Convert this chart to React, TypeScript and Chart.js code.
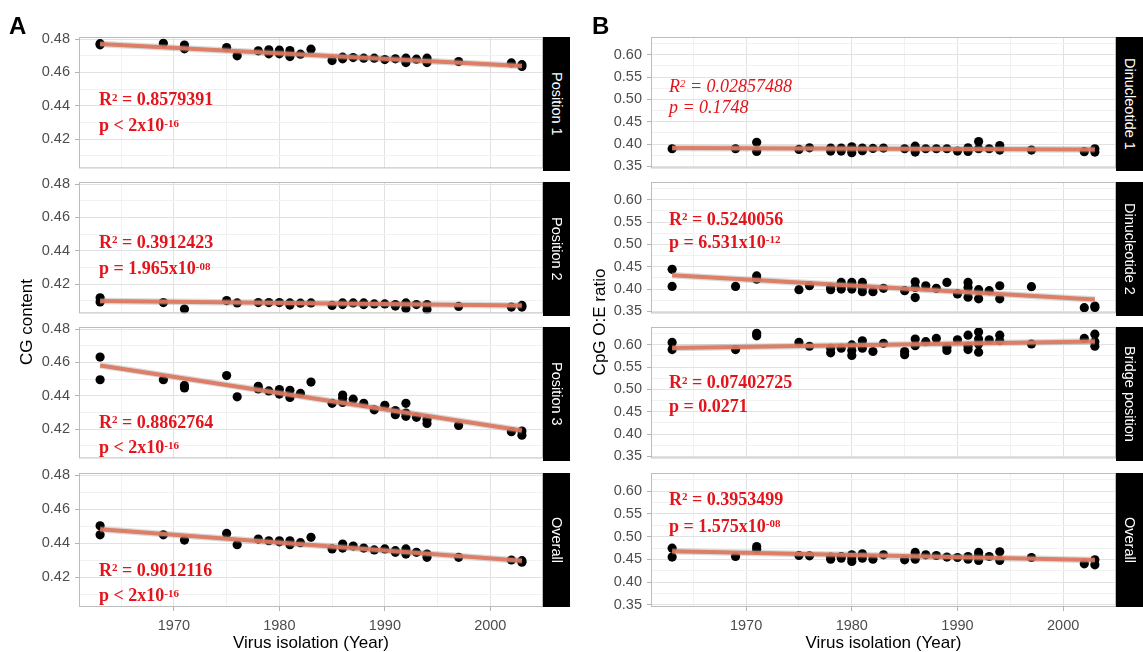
import React, { useEffect, useRef } from "react";
import { Chart, registerables } from "chart.js";

Chart.register(...registerables);

const SANS = '"Liberation Sans", Arial, Helvetica, sans-serif';
const SERIF = '"Liberation Serif", "Times New Roman", Times, serif';

// ---- axes ----
const yearMin = 1961;
const yearMax = 2005;
const yearMajor = [1970, 1980, 1990, 2000];
const yearMinor = [1965, 1975, 1985, 1995];

const cgMin = 0.4025;
const cgMax = 0.4812;
const cgMajor = [0.42, 0.44, 0.46, 0.48];
const cgMinor = [0.41, 0.43, 0.45, 0.47];

const oeMin = 0.3456;
const oeMax = 0.6395;
const oeMajor = [0.35, 0.4, 0.45, 0.5, 0.55, 0.6];
const oeMinor = [0.375, 0.425, 0.475, 0.525, 0.575, 0.625];

// ---- A: CG content by codon position ----
const pos1Years = [1963, 1963, 1969, 1971, 1971, 1975, 1976, 1978, 1979, 1979, 1980, 1980, 1981, 1981, 1982, 1983, 1985, 1986, 1986, 1987, 1988, 1989, 1990, 1991, 1992, 1992, 1993, 1994, 1994, 1997, 2002, 2003, 2003];
const pos1Values = [0.4772, 0.4765, 0.4774, 0.4764, 0.4741, 0.4749, 0.4699, 0.4729, 0.4735, 0.4711, 0.4733, 0.4711, 0.4731, 0.4695, 0.4709, 0.4739, 0.4671, 0.4691, 0.4681, 0.4689, 0.4685, 0.4685, 0.4677, 0.4681, 0.4685, 0.4659, 0.4679, 0.4685, 0.4659, 0.4665, 0.4657, 0.4646, 0.4636];
const pos1Fit = [0.477, 0.4638];

const pos2Years = [1963, 1963, 1969, 1971, 1975, 1976, 1978, 1979, 1980, 1981, 1981, 1982, 1983, 1985, 1986, 1986, 1987, 1988, 1988, 1989, 1990, 1991, 1991, 1992, 1992, 1993, 1994, 1994, 1997, 2002, 2003, 2003];
const pos2Values = [0.4118, 0.4094, 0.409, 0.4051, 0.4102, 0.4088, 0.409, 0.409, 0.409, 0.4088, 0.4075, 0.4086, 0.4088, 0.4073, 0.4088, 0.4078, 0.4088, 0.4088, 0.4078, 0.4082, 0.4082, 0.4078, 0.4069, 0.4088, 0.4055, 0.4078, 0.4078, 0.4049, 0.4067, 0.4063, 0.4073, 0.4063];
const pos2Fit = [0.4099, 0.4072];

const pos3Years = [1963, 1963, 1969, 1971, 1971, 1975, 1976, 1978, 1978, 1979, 1980, 1980, 1981, 1981, 1982, 1983, 1985, 1986, 1986, 1986, 1987, 1988, 1989, 1990, 1991, 1991, 1992, 1992, 1992, 1993, 1994, 1994, 1997, 2002, 2003, 2003];
const pos3Values = [0.4632, 0.4496, 0.4496, 0.4462, 0.4447, 0.4521, 0.4394, 0.4457, 0.4441, 0.4429, 0.4437, 0.441, 0.4433, 0.439, 0.4414, 0.4482, 0.4355, 0.4404, 0.4385, 0.436, 0.438, 0.4355, 0.4316, 0.4343, 0.4312, 0.4287, 0.4355, 0.4297, 0.4277, 0.4271, 0.4258, 0.4234, 0.4222, 0.4185, 0.4189, 0.4164];
const pos3Fit = [0.4582, 0.4192];

const cgAllYears = [1963, 1963, 1969, 1971, 1975, 1976, 1978, 1979, 1980, 1980, 1981, 1981, 1982, 1983, 1985, 1986, 1986, 1987, 1988, 1989, 1990, 1991, 1991, 1992, 1992, 1993, 1994, 1994, 1997, 2002, 2003, 2003];
const cgAllValues = [0.4502, 0.4449, 0.4449, 0.4418, 0.4457, 0.4391, 0.4424, 0.4414, 0.4414, 0.4408, 0.4414, 0.4391, 0.4403, 0.4434, 0.4366, 0.4395, 0.4371, 0.4383, 0.4371, 0.436, 0.4366, 0.4356, 0.4346, 0.4366, 0.4336, 0.4346, 0.4336, 0.4317, 0.4317, 0.4301, 0.4297, 0.4288];
const cgAllFit = [0.4482, 0.4297];

// ---- B: CpG observed/expected ratio ----
const din1Years = [1963, 1969, 1971, 1971, 1975, 1976, 1978, 1978, 1979, 1979, 1980, 1980, 1980, 1981, 1981, 1982, 1983, 1985, 1986, 1986, 1987, 1988, 1989, 1990, 1991, 1991, 1992, 1992, 1993, 1994, 1994, 1997, 2002, 2003, 2003];
const din1Values = [0.3895, 0.3895, 0.4041, 0.3836, 0.388, 0.3917, 0.391, 0.3844, 0.391, 0.3844, 0.3939, 0.388, 0.3807, 0.391, 0.3851, 0.3902, 0.391, 0.3895, 0.3953, 0.3822, 0.3895, 0.3895, 0.3895, 0.3844, 0.3917, 0.3836, 0.4058, 0.3895, 0.3895, 0.3968, 0.3866, 0.3866, 0.3829, 0.3895, 0.3822];
const din1Fit = [0.391, 0.388];

const din2Years = [1963, 1963, 1969, 1971, 1971, 1975, 1976, 1978, 1978, 1979, 1979, 1979, 1980, 1980, 1980, 1981, 1981, 1981, 1982, 1983, 1985, 1986, 1986, 1986, 1987, 1988, 1989, 1990, 1991, 1991, 1991, 1992, 1992, 1993, 1994, 1994, 1997, 2002, 2003, 2003];
const din2Values = [0.4441, 0.406, 0.406, 0.4294, 0.4221, 0.3987, 0.4075, 0.4038, 0.3987, 0.4148, 0.406, 0.4001, 0.4148, 0.4075, 0.4001, 0.4148, 0.4038, 0.3943, 0.3943, 0.4016, 0.3965, 0.4163, 0.4038, 0.3811, 0.4075, 0.4016, 0.4148, 0.3892, 0.4148, 0.4038, 0.3818, 0.3987, 0.3782, 0.3965, 0.4075, 0.3782, 0.4053, 0.3584, 0.362, 0.359];
const din2Fit = [0.4309, 0.3767];

const bridgeYears = [1963, 1963, 1969, 1971, 1971, 1975, 1976, 1978, 1978, 1979, 1980, 1980, 1980, 1981, 1981, 1982, 1983, 1985, 1985, 1986, 1986, 1987, 1988, 1989, 1989, 1990, 1991, 1991, 1991, 1992, 1992, 1992, 1992, 1993, 1994, 1994, 1997, 2002, 2003, 2003, 2003];
const bridgeValues = [0.6051, 0.5891, 0.5891, 0.6255, 0.6197, 0.6051, 0.5964, 0.592, 0.5818, 0.592, 0.5993, 0.5869, 0.5759, 0.6088, 0.592, 0.5847, 0.6029, 0.5847, 0.5774, 0.6124, 0.5978, 0.6066, 0.6139, 0.5942, 0.5869, 0.6109, 0.6212, 0.5964, 0.5891, 0.6285, 0.6124, 0.6015, 0.5832, 0.6109, 0.6212, 0.6088, 0.6015, 0.6139, 0.6234, 0.6066, 0.5964];
const bridgeFit = [0.5927, 0.6073];

const oeAllYears = [1963, 1963, 1969, 1971, 1971, 1975, 1976, 1978, 1978, 1979, 1979, 1980, 1980, 1980, 1981, 1981, 1982, 1983, 1985, 1986, 1986, 1987, 1988, 1989, 1990, 1991, 1991, 1992, 1992, 1992, 1993, 1994, 1994, 1997, 2002, 2003, 2003];
const oeAllValues = [0.4746, 0.455, 0.4564, 0.4783, 0.4725, 0.4586, 0.4579, 0.455, 0.4506, 0.4564, 0.4528, 0.4601, 0.4528, 0.4455, 0.4622, 0.4528, 0.4506, 0.4601, 0.4491, 0.4652, 0.4506, 0.4601, 0.4586, 0.455, 0.4542, 0.4564, 0.4506, 0.4652, 0.4579, 0.4477, 0.4564, 0.4666, 0.4477, 0.4542, 0.4404, 0.4491, 0.4382];
const oeAllFit = [0.468, 0.4485];

const fitYears = [1963, 2003];

// ---- strips and regression statistics ----
const stripsA = ["Position 1", "Position 2", "Position 3", "Overall"];
const stripsB = ["Dinucleotide 1", "Dinucleotide 2", "Bridge position", "Overall"];

const r2A = ["0.8579391", "0.3912423", "0.8862764", "0.9012116"];
const pOpA = ["<", "=", "<", "<"];
const pMantA = ["2", "1.965", "2", "2"];
const pExpA = ["-16", "-08", "-16", "-16"];

const r2B = ["0.02857488", "0.5240056", "0.07402725", "0.3953499"];
const pOpB = ["=", "=", "=", "="];
const pMantB = ["0.1748", "6.531", "0.0271", "1.575"];
const pExpB = ["", "-12", "", "-08"];

// label anchors in data units (left edge, cap-centre of each line)
const labelYearA = 1962.9;
const labelYearB = 1962.7;
const r2LabelYA = [0.4439, 0.4453, 0.4245, 0.4245];
const pLabelYA = [0.4282, 0.4294, 0.4093, 0.4093];
const r2LabelYB = [0.5302, 0.5575, 0.516, 0.5832];
const pLabelYB = [0.483, 0.5063, 0.4628, 0.5235];

// ---- layout ----
const PANEL_TOPS = [37, 182, 327, 473];
const PANEL_H = 134;
const PAD_TOP = 10;
const AXIS_H = 30;
const STRIP_W = 27;

const GRID_MAJOR = "#e2e2e2";
const GRID_MINOR = "#f1f1f1";
const TICK_COLOR = "#b3b3b3";
const BORDER_COLOR = "#bcbcbc";
const TEXT_GREY = "#4d4d4d";
const FIT_COLOR = "rgba(221,118,92,0.92)";
const BAND_COLOR = "rgba(150,150,150,0.35)";
const STAT_RED = "#e3141b";

type FacetSpec = {
  col: 0 | 1;
  row: number;
  years: number[];
  values: number[];
  fit: number[];
  strip: string;
  r2: string;
  pOp: string;
  pMant: string;
  pExp: string;
  r2Y: number;
  pY: number;
  italic: boolean;
};

const seriesA = [
  [pos1Years, pos1Values, pos1Fit],
  [pos2Years, pos2Values, pos2Fit],
  [pos3Years, pos3Values, pos3Fit],
  [cgAllYears, cgAllValues, cgAllFit],
];
const seriesB = [
  [din1Years, din1Values, din1Fit],
  [din2Years, din2Values, din2Fit],
  [bridgeYears, bridgeValues, bridgeFit],
  [oeAllYears, oeAllValues, oeAllFit],
];

const facets: FacetSpec[] = [
  ...seriesA.map((s, i) => ({
    col: 0 as const,
    row: i,
    years: s[0],
    values: s[1],
    fit: s[2],
    strip: stripsA[i],
    r2: r2A[i],
    pOp: pOpA[i],
    pMant: pMantA[i],
    pExp: pExpA[i],
    r2Y: r2LabelYA[i],
    pY: pLabelYA[i],
    italic: false,
  })),
  ...seriesB.map((s, i) => ({
    col: 1 as const,
    row: i,
    years: s[0],
    values: s[1],
    fit: s[2],
    strip: stripsB[i],
    r2: r2B[i],
    pOp: pOpB[i],
    pMant: pMantB[i],
    pExp: pExpB[i],
    r2Y: r2LabelYB[i],
    pY: pLabelYB[i],
    italic: i === 0,
  })),
];

const inList = (v: number, list: number[]) => list.some((m) => Math.abs(m - v) < 1e-9);

function FacetPanel({ spec }: { spec: FacetSpec }) {
  const ref = useRef<HTMLCanvasElement | null>(null);
  const isA = spec.col === 0;
  const bottom = spec.row === 3;
  const canvasLeft = isA ? 0 : 572;
  const canvasWidth = isA ? 572 : 571;
  const padRight = isA ? 29 : 27;
  const top = PANEL_TOPS[spec.row] - PAD_TOP;
  const height = PAD_TOP + PANEL_H + (bottom ? AXIS_H : 2);

  useEffect(() => {
    if (!ref.current) return;
    const yMajor = isA ? cgMajor : oeMajor;
    const yMinor = isA ? cgMinor : oeMinor;
    const yAll = [...yMinor, ...yMajor].sort((a, b) => a - b);
    const xAll = [...yearMinor, ...yearMajor].sort((a, b) => a - b);
    const labelYear = isA ? labelYearA : labelYearB;

    // regression statistics, drawn with superscripts
    const statText = {
      id: "statText",
      afterDatasetsDraw(chart: any) {
        const { ctx, scales } = chart;
        const x0 = scales.x.getPixelForValue(labelYear);
        const style = spec.italic ? "italic " : "bold ";
        const drawParts = (parts: { t: string; sup?: boolean }[], yVal: number) => {
          const base = scales.y.getPixelForValue(yVal) + 6;
          let cx = x0;
          ctx.save();
          ctx.fillStyle = STAT_RED;
          ctx.textAlign = "left";
          ctx.textBaseline = "alphabetic";
          for (const p of parts) {
            ctx.font = `${style}${p.sup ? 11 : 18}px ${SERIF}`;
            ctx.fillText(p.t, cx, p.sup ? base - 4.5 : base);
            cx += ctx.measureText(p.t).width;
          }
          ctx.restore();
        };
        drawParts([{ t: "R" }, { t: "2", sup: true }, { t: " = " + spec.r2 }], spec.r2Y);
        const pParts: { t: string; sup?: boolean }[] = [
          { t: `p ${spec.pOp} ${spec.pMant}${spec.pExp ? "x10" : ""}` },
        ];
        if (spec.pExp) pParts.push({ t: spec.pExp, sup: true });
        drawParts(pParts, spec.pY);
      },
    };

    // light grey frame around each facet
    const panelBorder = {
      id: "panelBorder",
      afterDraw(chart: any) {
        const { ctx, chartArea } = chart;
        ctx.save();
        ctx.strokeStyle = BORDER_COLOR;
        ctx.lineWidth = 1;
        ctx.strokeRect(
          chartArea.left + 0.5,
          chartArea.top + 0.5,
          chartArea.right - chartArea.left - 1,
          chartArea.bottom - chartArea.top - 1
        );
        ctx.restore();
      },
    };

    const points = spec.years.map((x, i) => ({ x, y: spec.values[i] }));
    const fitLine = fitYears.map((x, i) => ({ x, y: spec.fit[i] }));

    const chart = new Chart(ref.current, {
      type: "scatter",
      data: {
        datasets: [
          {
            type: "line",
            data: fitLine,
            borderColor: FIT_COLOR,
            borderWidth: 4,
            pointRadius: 0,
            fill: false,
            order: 0,
          } as any,
          {
            type: "line",
            data: fitLine,
            borderColor: BAND_COLOR,
            borderWidth: 6.5,
            pointRadius: 0,
            fill: false,
            order: 1,
          } as any,
          {
            type: "scatter",
            data: points,
            backgroundColor: "#000000",
            borderWidth: 0,
            pointRadius: 4.6,
            order: 2,
          },
        ],
      },
      options: {
        responsive: false,
        animation: false,
        events: [],
        layout: { padding: { top: PAD_TOP, bottom: bottom ? 0 : 2, left: 0, right: padRight } },
        plugins: { legend: { display: false }, title: { display: false }, tooltip: { enabled: false } },
        scales: {
          x: {
            type: "linear",
            min: yearMin,
            max: yearMax,
            bounds: "data",
            afterBuildTicks: (scale: any) => {
              scale.ticks = xAll.map((value) => ({ value }));
            },
            afterFit: (scale: any) => {
              scale.height = bottom ? AXIS_H : 0;
              scale.paddingLeft = 0;
              scale.paddingRight = 0;
              scale.paddingTop = 0;
              scale.paddingBottom = 0;
            },
            border: { display: false },
            grid: {
              color: (c: any) => (inList(c.tick?.value, yearMajor) ? GRID_MAJOR : GRID_MINOR),
              tickColor: (c: any) => (inList(c.tick?.value, yearMajor) ? TICK_COLOR : "rgba(0,0,0,0)"),
              lineWidth: 1,
              drawTicks: bottom,
              tickLength: 4,
            },
            ticks: {
              display: bottom,
              autoSkip: false,
              maxRotation: 0,
              padding: 6,
              color: TEXT_GREY,
              font: { family: SANS, size: 14.5 },
              callback: (v: any) => (inList(Number(v), yearMajor) ? String(v) : ""),
            },
          },
          y: {
            type: "linear",
            min: isA ? cgMin : oeMin,
            max: isA ? cgMax : oeMax,
            bounds: "data",
            afterBuildTicks: (scale: any) => {
              scale.ticks = yAll.map((value) => ({ value }));
            },
            afterFit: (scale: any) => {
              scale.width = 79;
              scale.paddingTop = 0;
              scale.paddingBottom = 0;
              scale.paddingLeft = 0;
              scale.paddingRight = 0;
            },
            border: { display: false },
            grid: {
              color: (c: any) => (inList(c.tick?.value, yMajor) ? GRID_MAJOR : GRID_MINOR),
              tickColor: (c: any) => (inList(c.tick?.value, yMajor) ? TICK_COLOR : "rgba(0,0,0,0)"),
              lineWidth: 1,
              drawTicks: true,
              tickLength: 4,
            },
            ticks: {
              autoSkip: false,
              padding: 5,
              color: TEXT_GREY,
              font: { family: SANS, size: 14.5 },
              callback: (v: any) => (inList(Number(v), yMajor) ? Number(v).toFixed(2) : ""),
            },
          },
        },
      } as any,
      plugins: [statText, panelBorder],
    });
    return () => chart.destroy();
  }, [spec]);

  return (
    <canvas
      ref={ref}
      width={canvasWidth}
      height={height}
      style={{ position: "absolute", left: canvasLeft, top, width: canvasWidth, height }}
    />
  );
}

function Strip({ col, row, text }: { col: 0 | 1; row: number; text: string }) {
  return (
    <div
      style={{
        position: "absolute",
        left: col === 0 ? 543 : 1116,
        top: PANEL_TOPS[row],
        width: STRIP_W,
        height: PANEL_H,
        background: "#000",
        color: "#fff",
        display: "flex",
        alignItems: "center",
        justifyContent: "center",
      }}
    >
      <span style={{ writingMode: "vertical-rl", fontFamily: SANS, fontSize: 14.5, whiteSpace: "nowrap" }}>
        {text}
      </span>
    </div>
  );
}

export default function App() {
  const titleStyle: React.CSSProperties = {
    position: "absolute",
    fontFamily: SANS,
    fontSize: 17,
    lineHeight: "17px",
    color: "#000",
    whiteSpace: "nowrap",
  };
  return (
    <div
      style={{
        position: "absolute",
        left: 0,
        top: 0,
        width: 1143,
        height: 652,
        background: "#ffffff",
        overflow: "hidden",
      }}
    >
      {facets.map((f) => (
        <FacetPanel key={`${f.col}-${f.row}`} spec={f} />
      ))}
      {stripsA.map((s, i) => (
        <Strip key={`sa${i}`} col={0} row={i} text={s} />
      ))}
      {stripsB.map((s, i) => (
        <Strip key={`sb${i}`} col={1} row={i} text={s} />
      ))}

      <div style={{ ...titleStyle, left: 9, top: 14, fontSize: 24, lineHeight: "24px", fontWeight: "bold" }}>A</div>
      <div style={{ ...titleStyle, left: 592, top: 14, fontSize: 24, lineHeight: "24px", fontWeight: "bold" }}>B</div>

      <div style={{ ...titleStyle, left: 26, top: 322, transform: "translate(-50%, -50%) rotate(-90deg)" }}>
        CG content
      </div>
      <div style={{ ...titleStyle, left: 599, top: 322, transform: "translate(-50%, -50%) rotate(-90deg)" }}>
        CpG O:E ratio
      </div>

      <div style={{ ...titleStyle, left: 311, top: 634, transform: "translateX(-50%)" }}>Virus isolation (Year)</div>
      <div style={{ ...titleStyle, left: 883.5, top: 634, transform: "translateX(-50%)" }}>Virus isolation (Year)</div>
    </div>
  );
}
